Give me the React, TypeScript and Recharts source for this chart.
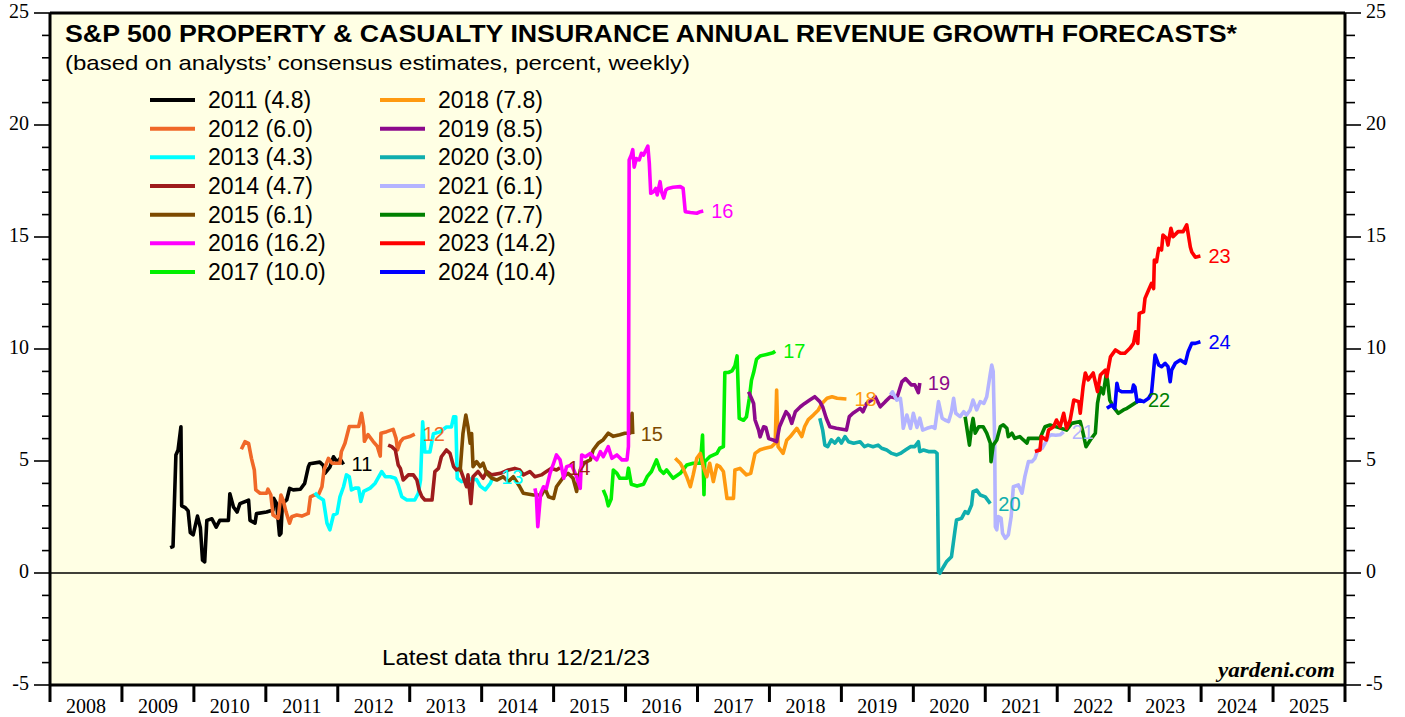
import { LineChart, Line, XAxis, YAxis, ReferenceLine, CartesianGrid } from 'recharts';

const W = 1405;
const H = 717;
const SANS = "'Liberation Sans', Arial, Helvetica, sans-serif";
const SERIF = "'Liberation Serif', 'Times New Roman', serif";

const xTicks = [2008, 2009, 2010, 2011, 2012, 2013, 2014, 2015, 2016, 2017, 2018, 2019, 2020, 2021, 2022, 2023, 2024, 2025, 2026];
const yTicks = [-5, -4, -3, -2, -1, 0, 1, 2, 3, 4, 5, 6, 7, 8, 9, 10, 11, 12, 13, 14, 15, 16, 17, 18, 19, 20, 21, 22, 23, 24, 25];

// [decimal year, forecast %]
const s2011 = [[2009.67, 1.13], [2009.71, 1.18], [2009.75, 5.27], [2009.78, 5.49], [2009.82, 6.53], [2009.83, 3.0], [2009.88, 2.92], [2009.92, 2.77], [2009.95, 1.8], [2009.99, 1.7], [2010.05, 2.54], [2010.09, 2.02], [2010.12, 0.58], [2010.15, 0.5], [2010.18, 2.35], [2010.25, 2.42], [2010.31, 2.05], [2010.36, 2.35], [2010.48, 2.35], [2010.5, 3.54], [2010.55, 2.95], [2010.6, 2.72], [2010.64, 3.1], [2010.76, 3.25], [2010.78, 2.35], [2010.85, 2.23], [2010.87, 2.65], [2011.01, 2.72], [2011.1, 2.81], [2011.11, 3.33], [2011.15, 3.1], [2011.19, 1.69], [2011.21, 1.77], [2011.23, 3.1], [2011.29, 3.26], [2011.33, 3.78], [2011.38, 3.71], [2011.48, 3.74], [2011.54, 4.0], [2011.59, 4.73], [2011.61, 4.88], [2011.75, 4.95], [2011.8, 4.8], [2011.82, 4.45], [2011.89, 4.73], [2011.94, 5.19], [2011.99, 4.95], [2012.03, 5.1], [2012.08, 4.85]];
const s2012 = [[2010.66, 5.52], [2010.71, 5.86], [2010.76, 5.79], [2010.8, 5.12], [2010.84, 4.6], [2010.86, 3.71], [2010.92, 3.56], [2011.01, 3.56], [2011.03, 3.74], [2011.07, 3.48], [2011.1, 2.59], [2011.17, 2.44], [2011.21, 3.48], [2011.24, 3.26], [2011.28, 2.74], [2011.33, 2.22], [2011.36, 2.51], [2011.43, 2.59], [2011.5, 2.54], [2011.59, 2.66], [2011.62, 3.4], [2011.67, 3.48], [2011.73, 3.48], [2011.78, 3.85], [2011.81, 4.62], [2011.87, 5.12], [2011.92, 4.9], [2012.03, 4.9], [2012.05, 5.42], [2012.1, 5.79], [2012.16, 6.54], [2012.29, 6.54], [2012.33, 7.13], [2012.36, 6.54], [2012.37, 5.88], [2012.42, 6.18], [2012.49, 5.88], [2012.55, 5.65], [2012.59, 5.22], [2012.6, 6.24], [2012.68, 6.31], [2012.77, 6.41], [2012.81, 6.01], [2012.83, 5.49], [2012.87, 5.86], [2012.91, 6.01], [2013.0, 6.09], [2013.07, 6.2]];
const s2013 = [[2011.68, 3.58], [2011.73, 3.4], [2011.8, 3.26], [2011.85, 2.22], [2011.89, 1.93], [2011.94, 2.59], [2011.99, 2.66], [2012.03, 3.4], [2012.08, 3.85], [2012.12, 4.38], [2012.16, 4.3], [2012.19, 3.71], [2012.24, 3.79], [2012.29, 3.79], [2012.32, 3.19], [2012.36, 3.64], [2012.45, 3.79], [2012.52, 4.01], [2012.61, 4.53], [2012.66, 4.3], [2012.73, 4.3], [2012.8, 4.23], [2012.84, 3.93], [2012.89, 3.4], [2012.96, 3.26], [2013.07, 3.26], [2013.12, 3.56], [2013.15, 4.15], [2013.18, 6.75], [2013.21, 5.4], [2013.28, 5.4], [2013.33, 6.22], [2013.42, 6.3], [2013.51, 6.52], [2013.58, 6.52], [2013.61, 6.97], [2013.64, 6.97], [2013.66, 4.23], [2013.72, 4.08], [2013.84, 4.2], [2013.93, 4.17], [2013.98, 3.88], [2014.05, 3.71], [2014.12, 4.0], [2014.16, 4.3]];
const s2014 = [[2012.7, 5.71], [2012.75, 5.64], [2012.8, 5.49], [2012.84, 4.82], [2012.87, 4.67], [2012.91, 4.15], [2012.98, 4.38], [2013.05, 4.38], [2013.1, 4.15], [2013.13, 3.71], [2013.17, 3.4], [2013.21, 3.26], [2013.31, 3.26], [2013.35, 4.53], [2013.4, 4.67], [2013.44, 5.19], [2013.51, 5.49], [2013.56, 5.34], [2013.61, 4.75], [2013.65, 4.6], [2013.7, 4.67], [2013.79, 3.85], [2013.81, 4.38], [2013.85, 3.1], [2013.88, 4.3], [2013.95, 4.53], [2014.02, 4.23], [2014.07, 4.53], [2014.14, 4.38], [2014.26, 4.45], [2014.37, 4.6], [2014.46, 4.67], [2014.53, 4.6], [2014.58, 4.38], [2014.67, 4.53], [2014.74, 4.3], [2014.83, 4.38], [2014.9, 4.53], [2014.97, 4.67], [2015.04, 4.6], [2015.09, 4.7]];
const s2015 = [[2013.7, 4.52], [2013.74, 6.23], [2013.78, 7.05], [2013.81, 6.53], [2013.84, 5.79], [2013.86, 6.23], [2013.88, 4.75], [2013.93, 4.97], [2013.98, 4.75], [2014.02, 4.9], [2014.07, 4.45], [2014.14, 4.23], [2014.21, 4.15], [2014.3, 4.3], [2014.37, 4.08], [2014.44, 4.3], [2014.53, 3.85], [2014.58, 3.56], [2014.72, 3.48], [2014.83, 3.48], [2014.88, 3.78], [2014.93, 3.4], [2015.0, 3.33], [2015.04, 3.85], [2015.14, 4.3], [2015.2, 4.45], [2015.27, 4.23], [2015.32, 3.64], [2015.37, 4.6], [2015.41, 4.9], [2015.46, 4.97], [2015.51, 5.05], [2015.55, 5.49], [2015.62, 5.79], [2015.69, 5.95], [2015.76, 6.24], [2015.83, 6.1], [2015.92, 6.17], [2015.99, 6.24], [2016.06, 6.24], [2016.09, 7.13], [2016.1, 6.2]];
const s2016 = [[2014.74, 3.78], [2014.76, 3.48], [2014.78, 2.07], [2014.82, 3.56], [2014.86, 3.85], [2014.9, 3.78], [2014.95, 4.45], [2015.0, 4.9], [2015.04, 5.27], [2015.09, 5.05], [2015.14, 4.23], [2015.18, 4.75], [2015.25, 4.82], [2015.32, 4.3], [2015.37, 3.78], [2015.39, 5.27], [2015.44, 5.19], [2015.51, 5.34], [2015.55, 5.19], [2015.6, 5.05], [2015.65, 5.42], [2015.69, 5.19], [2015.76, 5.64], [2015.81, 5.12], [2015.88, 5.27], [2015.95, 5.05], [2016.02, 5.05], [2016.04, 5.64], [2016.05, 18.44], [2016.08, 18.66], [2016.1, 18.9], [2016.12, 18.12], [2016.15, 18.5], [2016.19, 18.44], [2016.22, 18.74], [2016.25, 18.66], [2016.31, 19.06], [2016.33, 18.3], [2016.35, 16.95], [2016.39, 17.02], [2016.42, 17.17], [2016.44, 16.88], [2016.48, 17.47], [2016.5, 17.02], [2016.53, 16.74], [2016.56, 17.1], [2016.59, 17.17], [2016.66, 17.22], [2016.76, 17.25], [2016.8, 17.17], [2016.83, 16.13], [2016.9, 16.09], [2016.99, 16.06], [2017.04, 16.13], [2017.08, 16.16]];
const s2017 = [[2015.69, 3.71], [2015.73, 3.4], [2015.76, 3.0], [2015.8, 3.3], [2015.83, 4.6], [2015.88, 4.45], [2015.92, 4.23], [2016.02, 4.23], [2016.04, 4.68], [2016.08, 3.96], [2016.16, 3.88], [2016.25, 3.96], [2016.3, 4.3], [2016.36, 4.53], [2016.43, 5.05], [2016.48, 4.6], [2016.53, 4.45], [2016.57, 4.6], [2016.66, 4.23], [2016.76, 4.45], [2016.85, 4.82], [2016.94, 4.9], [2017.04, 4.9], [2017.07, 6.16], [2017.09, 3.5], [2017.1, 4.97], [2017.17, 5.19], [2017.27, 5.34], [2017.31, 5.57], [2017.36, 5.64], [2017.38, 8.95], [2017.43, 8.95], [2017.48, 9.02], [2017.52, 9.24], [2017.55, 9.69], [2017.58, 6.9], [2017.64, 6.82], [2017.68, 6.97], [2017.72, 7.79], [2017.75, 8.6], [2017.78, 8.95], [2017.82, 9.54], [2017.87, 9.69], [2017.96, 9.76], [2018.05, 9.83], [2018.08, 9.9]];
const s2018 = [[2016.69, 5.12], [2016.76, 4.9], [2016.8, 4.67], [2016.85, 4.3], [2016.9, 3.85], [2016.94, 4.38], [2016.99, 5.12], [2017.04, 5.34], [2017.08, 4.75], [2017.13, 4.3], [2017.17, 4.9], [2017.22, 4.08], [2017.27, 4.82], [2017.31, 4.75], [2017.36, 4.53], [2017.41, 3.33], [2017.5, 3.33], [2017.52, 4.6], [2017.59, 4.67], [2017.68, 4.38], [2017.74, 4.45], [2017.8, 5.34], [2017.87, 5.5], [2017.94, 5.57], [2018.03, 5.64], [2018.08, 5.79], [2018.1, 8.17], [2018.12, 5.64], [2018.19, 5.34], [2018.24, 5.93], [2018.29, 6.09], [2018.38, 6.46], [2018.45, 6.09], [2018.49, 6.54], [2018.54, 6.85], [2018.61, 7.05], [2018.68, 7.28], [2018.73, 7.57], [2018.8, 7.8], [2018.87, 7.87], [2018.94, 7.8], [2019.07, 7.77]];
const s2019 = [[2017.71, 8.09], [2017.75, 7.8], [2017.78, 7.57], [2017.8, 6.83], [2017.85, 6.38], [2017.87, 6.08], [2017.92, 6.53], [2017.95, 6.5], [2017.99, 6.0], [2018.05, 5.94], [2018.1, 5.86], [2018.14, 6.53], [2018.18, 6.83], [2018.23, 7.2], [2018.27, 7.05], [2018.31, 6.68], [2018.36, 7.2], [2018.43, 7.42], [2018.49, 7.57], [2018.56, 7.72], [2018.63, 7.87], [2018.7, 7.65], [2018.74, 7.42], [2018.79, 6.91], [2018.84, 6.53], [2018.93, 6.46], [2019.07, 6.38], [2019.11, 6.98], [2019.16, 7.13], [2019.26, 7.35], [2019.3, 7.2], [2019.35, 7.57], [2019.42, 7.72], [2019.47, 7.87], [2019.54, 7.42], [2019.61, 7.65], [2019.68, 7.87], [2019.77, 7.8], [2019.84, 8.53], [2019.89, 8.68], [2019.97, 8.4], [2020.02, 8.4], [2020.07, 8.05], [2020.09, 8.48]];
const s2020 = [[2018.7, 6.91], [2018.74, 6.38], [2018.77, 5.71], [2018.81, 5.64], [2018.86, 5.94], [2018.91, 5.8], [2018.96, 6.01], [2019.0, 5.8], [2019.05, 6.09], [2019.1, 5.86], [2019.17, 5.79], [2019.26, 5.86], [2019.32, 5.64], [2019.37, 5.71], [2019.44, 5.64], [2019.51, 5.71], [2019.56, 5.57], [2019.63, 5.49], [2019.7, 5.34], [2019.77, 5.27], [2019.82, 5.34], [2019.89, 5.49], [2019.96, 5.64], [2020.02, 5.64], [2020.07, 5.86], [2020.09, 5.42], [2020.14, 5.49], [2020.21, 5.42], [2020.3, 5.42], [2020.33, 5.34], [2020.35, 0.06], [2020.37, -0.01], [2020.42, 0.28], [2020.46, 0.5], [2020.53, 0.73], [2020.58, 1.92], [2020.6, 2.37], [2020.67, 2.44], [2020.72, 2.74], [2020.76, 2.66], [2020.81, 3.04], [2020.83, 3.63], [2020.88, 3.7], [2020.93, 3.48], [2021.0, 3.4], [2021.07, 3.1]];
const s2021 = [[2019.68, 7.95], [2019.71, 8.09], [2019.77, 7.72], [2019.82, 7.8], [2019.84, 7.29], [2019.86, 6.46], [2019.91, 7.05], [2019.96, 6.46], [2020.0, 7.13], [2020.05, 6.5], [2020.09, 6.91], [2020.13, 6.38], [2020.19, 6.46], [2020.26, 6.53], [2020.3, 6.46], [2020.35, 7.65], [2020.4, 6.91], [2020.44, 6.83], [2020.49, 6.76], [2020.53, 7.2], [2020.56, 7.8], [2020.59, 7.13], [2020.65, 6.98], [2020.7, 7.2], [2020.74, 7.05], [2020.79, 7.28], [2020.83, 7.72], [2020.88, 7.28], [2020.93, 7.65], [2020.98, 7.57], [2021.02, 7.87], [2021.07, 8.91], [2021.09, 9.28], [2021.11, 9.0], [2021.13, 6.0], [2021.14, 2.07], [2021.16, 1.93], [2021.18, 2.52], [2021.22, 2.44], [2021.24, 1.77], [2021.28, 1.55], [2021.32, 1.7], [2021.36, 2.52], [2021.39, 3.85], [2021.46, 3.93], [2021.51, 3.56], [2021.55, 4.3], [2021.6, 4.97], [2021.65, 4.97], [2021.69, 5.12], [2021.73, 5.5], [2021.79, 5.57], [2021.83, 5.79], [2021.88, 6.1], [2021.92, 6.17], [2021.98, 6.15], [2022.04, 6.17], [2022.09, 6.3]];
const s2022 = [[2020.72, 6.98], [2020.78, 5.71], [2020.81, 6.53], [2020.83, 6.9], [2020.86, 6.24], [2020.91, 6.53], [2020.97, 6.53], [2021.02, 6.24], [2021.07, 5.8], [2021.08, 4.97], [2021.11, 5.71], [2021.16, 5.94], [2021.21, 6.54], [2021.25, 6.61], [2021.3, 6.46], [2021.32, 6.09], [2021.37, 6.24], [2021.41, 6.01], [2021.48, 6.09], [2021.53, 5.94], [2021.58, 5.8], [2021.6, 6.01], [2021.67, 6.01], [2021.76, 6.01], [2021.83, 6.53], [2021.9, 6.61], [2022.01, 6.5], [2022.13, 6.38], [2022.2, 6.68], [2022.32, 6.76], [2022.35, 6.38], [2022.4, 5.64], [2022.46, 5.94], [2022.53, 6.24], [2022.56, 7.57], [2022.6, 8.28], [2022.64, 8.0], [2022.68, 8.84], [2022.7, 8.6], [2022.73, 7.72], [2022.78, 7.42], [2022.85, 7.13], [2022.92, 7.28], [2022.97, 7.35], [2023.04, 7.5], [2023.11, 7.65], [2023.15, 7.72]];
const s2023 = [[2021.69, 5.42], [2021.76, 5.49], [2021.78, 6.09], [2021.85, 5.94], [2021.88, 6.38], [2021.95, 6.53], [2021.99, 6.83], [2022.04, 6.53], [2022.09, 7.13], [2022.13, 6.46], [2022.18, 6.83], [2022.23, 7.72], [2022.3, 7.65], [2022.32, 7.13], [2022.36, 8.32], [2022.39, 8.93], [2022.43, 8.62], [2022.5, 8.93], [2022.56, 8.1], [2022.6, 8.84], [2022.67, 9.06], [2022.69, 8.76], [2022.74, 9.65], [2022.81, 9.96], [2022.88, 9.81], [2022.94, 9.81], [2023.01, 10.03], [2023.06, 10.25], [2023.09, 10.77], [2023.12, 10.25], [2023.14, 11.59], [2023.2, 11.66], [2023.22, 12.26], [2023.27, 12.63], [2023.31, 12.93], [2023.34, 12.7], [2023.35, 13.97], [2023.38, 13.89], [2023.41, 14.49], [2023.45, 14.42], [2023.47, 15.09], [2023.52, 14.94], [2023.54, 14.64], [2023.58, 15.39], [2023.61, 15.01], [2023.68, 15.24], [2023.75, 15.24], [2023.8, 15.54], [2023.85, 14.55], [2023.87, 14.33], [2023.92, 14.1], [2023.99, 14.15]];
const s2024 = [[2022.69, 7.35], [2022.76, 7.5], [2022.8, 7.35], [2022.83, 8.47], [2022.85, 8.17], [2022.9, 8.09], [2023.04, 8.09], [2023.06, 8.39], [2023.08, 8.3], [2023.11, 7.65], [2023.15, 7.72], [2023.2, 7.65], [2023.27, 7.8], [2023.31, 8.02], [2023.36, 9.73], [2023.41, 9.29], [2023.45, 9.21], [2023.5, 9.36], [2023.54, 9.21], [2023.57, 8.54], [2023.59, 9.06], [2023.64, 9.36], [2023.71, 9.51], [2023.78, 9.36], [2023.82, 9.88], [2023.87, 10.25], [2023.92, 10.25], [2023.99, 10.32]];

const seriesYears = ['2011', '2012', '2013', '2014', '2015', '2016', '2017', '2018', '2019', '2020', '2021', '2022', '2023', '2024'];
const finalValues = ['4.8', '6.0', '4.3', '4.7', '6.1', '16.2', '10.0', '7.8', '8.5', '3.0', '6.1', '7.7', '14.2', '10.4'];
const endLabels = ['11', '12', '13', '14', '15', '16', '17', '18', '19', '20', '21', '22', '23', '24'];
const colors = ['#000000', '#F06828', '#00FFFF', '#9E1C1C', '#7D4A00', '#FF00FF', '#00F000', '#FF9A10', '#8C0A8C', '#10AEAE', '#B4B4FF', '#008000', '#FF0000', '#0000FF'];
const seriesData = [s2011, s2012, s2013, s2014, s2015, s2016, s2017, s2018, s2019, s2020, s2021, s2022, s2023, s2024];

const series = seriesData.map((pts, i) => ({
  key: seriesYears[i],
  color: colors[i],
  label: endLabels[i],
  data: pts.map(([x, v]) => ({ x, v })),
}));

const PLOT_LEFT = 50;
const PLOT_RIGHT = 60;
const HALF_YEAR = (W - PLOT_LEFT - PLOT_RIGHT) / (xTicks.length - 1) / 2;

function LeftTick({ x, y, payload }: any) {
  const major = payload.value % 5 === 0;
  return (
    <g>
      <line x1={x - (major ? 16 : 8)} x2={x} y1={y} y2={y} stroke="#000" strokeWidth={1.6} />
      {major && (
        <text x={x - 21} y={y} dy={5} textAnchor="end" fontFamily={SERIF} fontSize={20} fill="#000">
          {payload.value}
        </text>
      )}
    </g>
  );
}

function RightTick({ x, y, payload }: any) {
  const major = payload.value % 5 === 0;
  return (
    <g>
      <line x1={x} x2={x + (major ? 16 : 10)} y1={y} y2={y} stroke="#000" strokeWidth={1.6} />
      {major && (
        <text x={x + 21} y={y} dy={5} textAnchor="start" fontFamily={SERIF} fontSize={20} fill="#000">
          {payload.value}
        </text>
      )}
    </g>
  );
}

function BottomTick({ x, y, payload }: any) {
  const last = payload.value === xTicks[xTicks.length - 1];
  return (
    <g>
      <line x1={x} x2={x} y1={y} y2={y + 17} stroke="#000" strokeWidth={3} />
      {!last && (
        <text x={x + HALF_YEAR} y={y + 28} textAnchor="middle" fontFamily={SERIF} fontSize={20} fill="#000">
          {payload.value}
        </text>
      )}
    </g>
  );
}

const endLabel = (count: number, text: string, color: string) => (props: any) => {
  if (props.index !== count - 1) return null;
  return (
    <text x={props.x + 8} y={props.y} dy={7} fill={color} fontFamily={SANS} fontSize={20}>
      {text}
    </text>
  );
};

function Overlay() {
  return (
    <svg width={W} height={H} style={{ position: 'absolute', left: 0, top: 0, pointerEvents: 'none' }}>
      <text x={65} y={42} fontFamily={SANS} fontWeight="bold" fontSize={23} textLength={1172} lengthAdjust="spacingAndGlyphs">
        S&amp;P 500 PROPERTY &amp; CASUALTY INSURANCE ANNUAL REVENUE GROWTH FORECASTS*
      </text>
      <text x={65} y={70} fontFamily={SANS} fontSize={21} textLength={625} lengthAdjust="spacingAndGlyphs">
        (based on analysts’ consensus estimates, percent, weekly)
      </text>
      {series.map((s, i) => {
        const col = i < 7 ? 0 : 1;
        const row = i % 7;
        const cy = 100 + row * 28.67;
        const lx = col ? 380 : 150;
        const tx = col ? 438 : 208;
        return (
          <g key={s.key}>
            <line x1={lx} x2={lx + 45} y1={cy} y2={cy} stroke={s.color} strokeWidth={4} />
            <text x={tx} y={cy + 8} fontFamily={SANS} fontSize={23} fill="#000">
              {`${s.key} (${finalValues[i]})`}
            </text>
          </g>
        );
      })}
      <text x={382} y={665} fontFamily={SANS} fontSize={22} textLength={268} lengthAdjust="spacingAndGlyphs">
        Latest data thru  12/21/23
      </text>
      <text x={1218} y={677} fontFamily={SERIF} fontWeight="bold" fontStyle="italic" fontSize={21} textLength={117} lengthAdjust="spacingAndGlyphs">
        yardeni.com
      </text>
    </svg>
  );
}

export default function App() {
  return (
    <div style={{ position: 'absolute', left: 0, top: 0, width: W, height: H, background: '#fff' }}>
      <LineChart width={W} height={H} margin={{ top: 13, right: 0, bottom: 0, left: 0 }}>
        <CartesianGrid horizontal={false} vertical={false} fill="#FFFFE4" stroke="none" />
        <XAxis
          type="number"
          dataKey="x"
          domain={[2008, 2026]}
          ticks={xTicks}
          interval={0}
          allowDataOverflow
          height={32}
          tickSize={0}
          tickMargin={0}
          tickLine={false}
          axisLine={{ stroke: '#000', strokeWidth: 3 }}
          tick={<BottomTick />}
        />
        <YAxis
          yAxisId="left"
          orientation="left"
          domain={[-5, 25]}
          ticks={yTicks}
          interval={0}
          allowDataOverflow
          width={PLOT_LEFT}
          tickSize={0}
          tickMargin={0}
          tickLine={false}
          axisLine={{ stroke: '#000', strokeWidth: 3 }}
          tick={<LeftTick />}
        />
        <YAxis
          yAxisId="right"
          orientation="right"
          domain={[-5, 25]}
          ticks={yTicks}
          interval={0}
          allowDataOverflow
          width={PLOT_RIGHT}
          tickSize={0}
          tickMargin={0}
          tickLine={false}
          axisLine={{ stroke: '#000', strokeWidth: 3 }}
          tick={<RightTick />}
        />
        <ReferenceLine yAxisId="left" y={25} stroke="#000" strokeWidth={3} />
        <ReferenceLine yAxisId="left" y={0} stroke="#000" strokeWidth={1.5} strokeOpacity={1} />
        {series.map((s) => (
          <Line
            key={s.key}
            yAxisId="left"
            data={s.data}
            dataKey="v"
            type="linear"
            stroke={s.color}
            strokeWidth={3.6}
            strokeLinejoin="round"
            dot={false}
            activeDot={false}
            isAnimationActive={false}
            label={endLabel(s.data.length, s.label, s.color)}
          />
        ))}
      </LineChart>
      <Overlay />
    </div>
  );
}
